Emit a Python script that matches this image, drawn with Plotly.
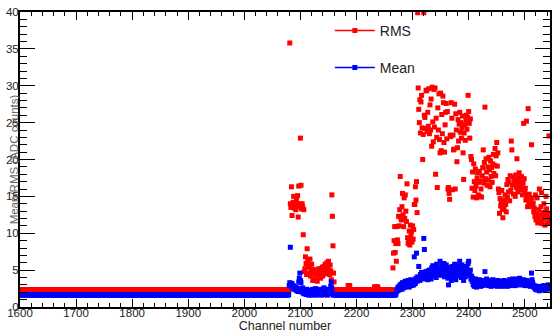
import plotly.graph_objects as go

# ---------------- data ----------------
FLAT_RMS = 2.3
FLAT_MEAN = 1.65

rms_seg1_start = 2081
rms_seg1 = [35.8, 14.0, 13.5, 16.3, 12.4, 13.8, 14.2, 15.0, 13.4, 13.9,
            14.1, 13.2, 14.6, 13.8, 15.1, 12.2, 16.4, 13.6, 14.0, 22.9,
            16.5, 13.3, 14.0, 13.6, 9.8, 13.2, 4.8, 5.2, 6.8, 5.9,
            4.4, 7.9, 6.2, 5.4, 4.6, 5.5, 6.5, 4.2, 5.0, 5.8,
            4.7, 3.6, 5.1, 4.5, 4.9, 3.8, 4.6, 5.0, 4.3, 3.5,
            4.8, 4.4, 5.2, 4.1, 4.7, 3.9, 5.0, 4.6, 5.4, 4.2,
            4.9, 5.5, 4.5, 5.8, 4.8, 5.2, 6.0, 4.6, 5.6, 6.2,
            5.0, 4.4, 5.7, 4.9, 3.7, 15.2, 12.3, 8.3, 4.6, 3.4]

rms_flat2_start = 2161
rms_flat2 = [2.3] * 24 + [2.9, 2.9, 2.8, 2.9] + [2.3] * 43 + [2.7] * 7 + [2.3] * 26

rms_seg2_start = 2265
rms_seg2 = [5.3, 7.3, 9.0, 10.9, 7.4, 8.6, 6.2, 10.9, 9.1, 8.6,
            12.3, 11.0, 13.2, 17.7, 12.1, 11.8, 13.6, 15.4, 12.5, 10.9,
            14.8, 12.0, 15.2, 13.0, 11.6, 16.7, 9.4, 8.6, 9.0, 10.3,
            8.4, 11.1, 9.6, 10.2, 8.8, 11.0, 9.2, 10.5, 13.9, 13.9,
            16.3, 14.5, 17.0, 12.8, 39.9, 29.7, 26.8, 25.0, 28.1, 23.6,
            27.8, 28.7, 24.3, 20.0, 23.4, 39.9, 26.0, 25.7, 24.2, 29.4,
            29.3, 23.8, 26.4, 24.5, 29.6, 23.5, 27.4, 24.0, 28.2, 21.8,
            29.8, 25.1, 22.4, 29.5, 24.4, 29.7, 18.0, 25.6, 23.0, 16.2,
            27.0, 24.0, 28.9, 22.7, 20.9, 29.0, 21.2, 26.1, 23.5, 28.6,
            27.7, 22.3, 21.0, 24.7, 26.4, 27.6, 22.8, 26.5, 16.0, 16.2,
            15.4, 14.6, 23.3, 23.1, 27.7, 25.6, 15.9, 23.3, 21.3, 21.4,
            27.5, 16.0, 26.2, 24.0, 19.7, 21.6, 25.4, 22.5, 24.8, 26.4,
            23.7, 25.0, 22.9, 24.3, 25.9, 20.9, 17.3, 23.6, 24.7, 22.6,
            25.3, 26.0, 24.1, 25.7, 28.7, 26.5, 24.9, 22.9, 25.5, 20.4,
            20.0, 16.1, 18.3, 14.9, 19.4, 17.0, 15.8, 18.7, 16.4, 14.8,
            17.5, 18.2, 15.2, 16.9, 18.4, 15.0, 17.1, 16.0, 14.9, 17.8,
            18.9, 21.3, 16.8, 19.6, 27.1, 17.4, 20.1, 18.3, 16.5, 19.0,
            17.2, 20.3, 18.6, 16.3, 19.8, 17.7, 18.9, 16.9, 19.4, 20.7,
            18.1, 19.2, 21.5, 17.8, 20.5, 22.3, 19.1, 20.9, 16.0, 15.5,
            12.7, 14.7, 13.7, 14.2, 15.8, 13.2, 12.1, 14.0, 13.5, 14.5,
            15.2, 13.9, 12.9, 16.6, 14.9, 17.3, 15.6, 16.9, 14.4, 17.8,
            15.8, 22.5, 21.3, 16.5, 17.6, 15.3, 16.8, 17.2, 15.0, 17.9,
            16.2, 20.1, 16.9, 15.6, 17.5, 18.2, 16.3, 17.0, 15.9, 17.7,
            16.6, 15.2, 16.8, 24.9, 17.4, 15.5, 16.1, 14.5, 25.2, 15.0,
            13.6, 26.9, 14.2, 15.3, 13.8, 14.6, 13.9, 22.0, 14.8, 13.6,
            14.1, 12.9, 13.4, 12.3, 15.2, 11.8, 12.6, 14.8, 11.4, 12.2,
            13.2, 16.0, 12.5, 11.7, 13.6, 15.5, 11.3, 12.8, 11.9, 14.0,
            12.4, 11.1, 12.9, 15.0, 13.3, 12.1, 11.4, 12.6, 23.2, 12.0, 11.5]

mean_seg1_start = 2080
mean_seg1 = [2.9, 3.3, 8.1, 3.0, 2.7, 3.2, 2.6, 2.9, 2.5, 2.8,
             2.4, 2.7, 2.3, 2.6, 2.2, 2.5, 2.1, 3.4, 3.9, 4.6,
             3.6, 3.3, 2.4, 2.0, 2.6, 2.1, 1.8, 2.3, 1.9, 2.2,
             1.7, 2.4, 2.0,
             1.8, 2.1, 1.6, 2.3, 1.9, 1.7, 2.2, 2.0, 1.6, 2.4,
             1.9, 1.8, 2.1, 1.7, 2.5, 2.0, 1.6, 2.2, 1.9, 2.3,
             1.8, 2.0, 1.7, 2.4, 2.1, 1.6, 1.9, 2.2, 1.8, 2.6,
             2.0, 1.7, 2.3, 1.9, 2.1, 1.6, 2.4, 2.0, 1.8, 2.2, 1.9,
             2.8, 3.4, 2.6, 1.9]

mean_seg2_start = 2271
mean_seg2 = [2.0, 2.4, 2.2, 2.7, 2.5, 2.3, 2.9, 2.6, 3.1, 2.8,
             2.4, 3.3, 2.9, 2.6, 3.2, 2.7, 3.5, 3.0, 2.8, 3.3,
             2.9, 3.6, 3.1, 2.7, 3.4, 3.0, 3.7, 3.2, 2.9, 3.5,
             3.3, 3.0, 6.8, 3.6, 3.2, 3.9, 7.3, 3.5, 4.1, 3.7,
             5.5, 4.0, 3.6, 4.4, 3.9, 4.7, 4.2, 3.8, 4.5, 9.3,
             7.8, 4.3, 3.9, 4.8, 4.1, 4.6, 3.7, 4.9, 4.4, 5.0,
             4.2, 4.7, 3.8, 5.3, 4.5, 5.6, 4.9, 4.3, 5.2, 4.6,
             5.5, 4.0, 5.8, 4.8, 5.1, 4.4, 5.4, 4.7, 6.2, 5.0,
             4.3, 5.6, 4.9, 5.3, 4.6, 5.9, 4.1, 5.2, 4.5, 5.7,
             4.8, 5.1, 3.9, 3.0, 4.6, 5.4, 4.2, 5.0, 3.6, 4.8,
             5.5, 4.3, 5.1, 4.0, 5.8, 4.7, 3.7, 5.3, 4.5, 5.6,
             4.9, 4.2, 5.4, 6.2, 4.6, 5.2, 4.0, 5.7, 4.8, 5.1,
             3.6, 4.4, 5.5, 4.1, 5.0, 4.5, 5.3, 4.7, 5.9, 6.2,
             4.8, 4.3, 5.0, 3.8, 4.2, 3.5, 3.9, 3.0, 3.6, 2.8,
             3.3, 3.8, 3.1, 2.7, 3.5, 3.0, 3.4, 2.9, 3.7, 3.2,
             2.8, 3.5, 3.1, 3.3, 2.9, 3.6, 3.2, 3.0, 4.8, 3.4,
             3.1, 3.8, 3.2, 3.5, 2.9, 3.3, 3.0, 3.6, 3.2, 2.8,
             3.4, 3.1, 3.7, 3.3, 2.9, 3.5, 3.2, 3.0, 3.4, 3.1,
             2.8, 3.6, 3.2, 3.0, 3.3, 2.9, 3.5, 3.1, 3.4, 2.8,
             3.2, 3.0, 3.6, 3.3, 2.9, 3.1, 3.5, 3.2, 2.8, 3.4,
             3.0, 3.3, 3.7, 3.1, 2.9, 3.5, 3.2, 3.8, 3.4, 3.0,
             3.6, 3.3, 2.9, 3.1, 3.5, 3.8, 3.2, 3.4, 3.0, 3.6,
             3.9, 3.3, 3.1, 3.5, 3.0, 3.4, 3.2, 3.7, 3.3, 2.9,
             3.4, 3.1, 3.6, 3.2, 2.9, 3.3, 3.0, 3.5, 3.2, 2.8,
             3.4, 4.6, 3.7, 3.3, 3.0, 2.7, 2.9, 2.6, 2.4, 2.8,
             2.5, 2.3, 2.7, 2.4, 2.6, 2.2, 2.5, 2.8, 2.4, 2.6,
             2.3, 2.7, 2.5, 2.9, 2.6, 2.4, 2.8, 2.5, 2.7, 2.4,
             2.9, 3.0, 2.6, 2.8, 2.5]

FIRST_CH = 1600
LAST_CH = 2545

Y_TITLE = "Mean/RMS (ADC counts)"
X_TITLE = "Channel number"

def build(segments, flat, last):
    vals = {}
    for start, seg in segments:
        for i, v in enumerate(seg):
            vals[start + i] = v
    xs, ys = [], []
    for ch in range(FIRST_CH, last + 1):
        xs.append(ch)
        ys.append(vals.get(ch, flat))
    return xs, ys

rms_x, rms_y = build([(rms_seg1_start, rms_seg1), (rms_flat2_start, rms_flat2),
                      (rms_seg2_start, rms_seg2)], FLAT_RMS, LAST_CH)
mean_x, mean_y = build([(mean_seg1_start, mean_seg1), (mean_seg2_start, mean_seg2)],
                       FLAT_MEAN, LAST_CH)

RED = "#ff0000"
BLUE = "#0000ff"
FONT = "Liberation Sans, Arial, Helvetica, sans-serif"
NBSP = "\u00a0"

fig = go.Figure()
fig.add_trace(go.Scatter(x=rms_x, y=rms_y, mode="markers", showlegend=False,
                         marker=dict(symbol="square", size=5, color=RED, line=dict(width=0))))
fig.add_trace(go.Scatter(x=mean_x, y=mean_y, mode="markers", showlegend=False,
                         marker=dict(symbol="square", size=5, color=BLUE, line=dict(width=0))))
# legend entries
fig.add_trace(go.Scatter(x=[None], y=[None], mode="lines+markers", name="RMS", legend="legend",
                         line=dict(color=RED, width=1.5),
                         marker=dict(symbol="square", size=5, color=RED)))
fig.add_trace(go.Scatter(x=[None], y=[None], mode="lines+markers", name="Mean", legend="legend2",
                         line=dict(color=BLUE, width=1.5),
                         marker=dict(symbol="square", size=5, color=BLUE)))
# empty trace on a helper axis that only carries the y title
fig.add_trace(go.Scatter(x=[None], y=[None], yaxis="y2", showlegend=False, hoverinfo="skip"))

L, T, B = 20, 12, 27
W, H = 552, 334
pw = W - L
ph = H - T - B

def px_x(p):
    return (p - L) / pw

def px_y(p):
    return (H - B - p) / ph

axis_common = dict(showline=True, linewidth=2, linecolor="#000000", mirror="ticks",
                   ticks="inside", tickcolor="#000000", tickwidth=1,
                   showgrid=False, zeroline=False,
                   layer="above traces",
                   tickfont=dict(family=FONT, size=11.5, color="#222"))

fig.update_layout(
    width=W, height=H,
    margin=dict(l=L, r=0, t=T, b=B, pad=0),
    paper_bgcolor="white", plot_bgcolor="white",
    font=dict(family=FONT, color="#222"),
    xaxis=dict(range=[FIRST_CH, LAST_CH], tick0=1600, dtick=100, ticklen=8,
               ticklabelstandoff=-6,
               minor=dict(dtick=20, ticklen=4, ticks="inside", tickcolor="#000000", tickwidth=1),
               title=dict(text=NBSP * 133 + X_TITLE, standoff=0,
                          font=dict(family=FONT, size=12.5, color="#222")),
               **axis_common),
    yaxis=dict(range=[0, 40], tick0=0, dtick=5, ticklen=15,
               ticklabelstandoff=-3,
               minor=dict(dtick=1, ticklen=7, ticks="inside", tickcolor="#000000", tickwidth=1),
               **axis_common),
    yaxis2=dict(overlaying="y", side="left", anchor="free", position=px_x(23),
                range=[0, 40], showline=False, ticks="", showticklabels=False,
                showgrid=False, zeroline=False,
                title=dict(text=NBSP * 53 + Y_TITLE, standoff=0,
                           font=dict(family=FONT, size=11.5, color="#666"))),
    legend=dict(x=px_x(331), y=px_y(31), xanchor="left", yanchor="middle", itemwidth=40,
                bgcolor="rgba(0,0,0,0)", borderwidth=0,
                font=dict(family=FONT, size=14, color="#222")),
    legend2=dict(x=px_x(331), y=px_y(68), xanchor="left", yanchor="middle", itemwidth=40,
                 bgcolor="rgba(0,0,0,0)", borderwidth=0,
                 font=dict(family=FONT, size=14, color="#222")),
)

fig.write_html("out.html")
